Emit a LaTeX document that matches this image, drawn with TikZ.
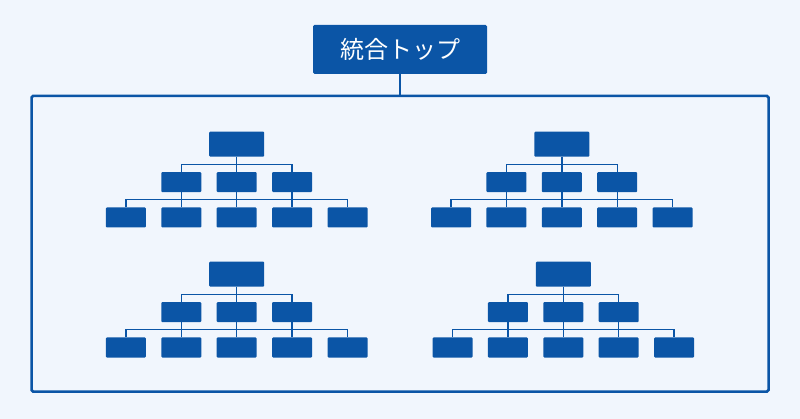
\documentclass[tikz,border=0pt]{standalone}
\usepackage{fontspec}
\usepackage{xcolor}
\usepackage{tikz}
\usetikzlibrary{positioning}
\newfontfamily\cjk{Noto Sans CJK JP}
\definecolor{OrgBlue}{HTML}{0B55A6}
\definecolor{PaleBg}{HTML}{F1F6FD}

% one small org chart: #1 name prefix, #2/#3 centre of its head box
\newcommand{\orgchart}[3]{%
  \node[headbox] (#1t) at (#2,#3) {};
  \node[unitbox, below=15pt of #1t] (#1m2) {};
  \node[unitbox, left=15pt of #1m2] (#1m1) {};
  \node[unitbox, right=15pt of #1m2] (#1m3) {};
  \node[unitbox, below=15pt of #1m2] (#1b3) {};
  \node[unitbox, left=15pt of #1b3] (#1b2) {};
  \node[unitbox, left=15pt of #1b2] (#1b1) {};
  \node[unitbox, right=15pt of #1b3] (#1b4) {};
  \node[unitbox, right=15pt of #1b4] (#1b5) {};
  \draw[link] (#1t.south) -- ++(0,7.5) -| (#1m1.north);
  \draw[link] (#1t.south) -- ++(0,7.5) -| (#1m3.north);
  \draw[link] (#1t.south) -- (#1m2.north);
  \draw[link] (#1b1.north) -- ++(0,-7.5) -| (#1b5.north);
  \draw[link] (#1m1.south) -- (#1b2.north);
  \draw[link] (#1m2.south) -- (#1b3.north);
  \draw[link] (#1m3.south) -- (#1b4.north);
}

\begin{document}
\begin{tikzpicture}[
    x=1pt, y=-1pt,
    topbox/.style={fill=OrgBlue, rounded corners=1.5pt, inner sep=0pt, minimum width=174pt, minimum height=49pt, text=white, font=\cjk\fontsize{24}{28}\selectfont},
    headbox/.style={fill=OrgBlue, rounded corners=1pt, inner sep=0pt, minimum width=55pt, minimum height=25pt},
    unitbox/.style={fill=OrgBlue, rounded corners=1pt, inner sep=0pt, minimum width=40pt, minimum height=20pt},
    frame/.style={draw=OrgBlue, line width=2.5pt, rounded corners=1.5pt},
    link/.style={draw=OrgBlue, line width=1.4pt},
    stem/.style={draw=OrgBlue, line width=2pt}
]
\fill[PaleBg] (0,0) rectangle (800,419);
\useasboundingbox (0,0) rectangle (800,419);
\node[topbox] (top) at (400,49.5) {統合トップ};
\draw[frame] (31.5,96) rectangle (768.5,391.5);
\coordinate (frametop) at (400,96);
\draw[stem] (top.south) -- (frametop);
\orgchart{a}{236.7}{144.2}
\orgchart{b}{561.8}{144.2}
\orgchart{c}{236.7}{274.2}
\orgchart{d}{563.3}{274.2}
\end{tikzpicture}
\end{document}
